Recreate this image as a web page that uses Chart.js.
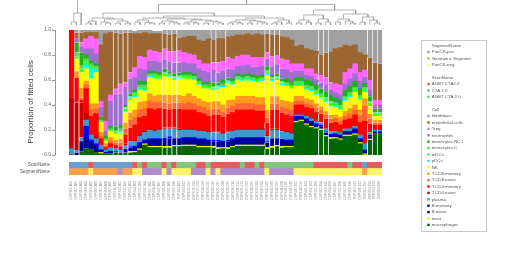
<!DOCTYPE html>
<html>
<head>
<meta charset="utf-8">
<script src="https://cdn.jsdelivr.net/npm/chart.js@4.4.0/dist/chart.umd.min.js"></script>
<style>
  html, body { margin: 0; padding: 0; background: #fff; }
  #wrap { position: relative; width: 512px; height: 271px; }
  #wrap canvas { position: absolute; left: 0; top: 0; }
</style>
</head>
<body>
<div id="wrap">
  <canvas id="dendroChart" width="512" height="271"></canvas>
  <canvas id="cellChart" width="512" height="271"></canvas>
  <canvas id="annoChart" width="512" height="271"></canvas>
</div>
<script>
// sample ids (x tick labels, too small to read in the original)
const sampleIds = [
  'DSP-001-A01','DSP-002-A02','DSP-003-A03','DSP-004-A04','DSP-005-A05','DSP-006-A06','DSP-007-A07','DSP-008-A08',
  'DSP-009-A09','DSP-010-A10','DSP-011-A11','DSP-012-A12','DSP-013-B01','DSP-014-B02','DSP-015-B03','DSP-016-B04',
  'DSP-017-B05','DSP-018-B06','DSP-019-B07','DSP-020-B08','DSP-021-B09','DSP-022-B10','DSP-023-B11','DSP-024-B12',
  'DSP-025-C01','DSP-026-C02','DSP-027-C03','DSP-028-C04','DSP-029-C05','DSP-030-C06','DSP-031-C07','DSP-032-C08',
  'DSP-033-C09','DSP-034-C10','DSP-035-C11','DSP-036-C12','DSP-037-D01','DSP-038-D02','DSP-039-D03','DSP-040-D04',
  'DSP-041-D05','DSP-042-D06','DSP-043-D07','DSP-044-D08','DSP-045-D09','DSP-046-D10','DSP-047-D11','DSP-048-D12',
  'DSP-049-E01','DSP-050-E02','DSP-051-E03','DSP-052-E04','DSP-053-E05','DSP-054-E06','DSP-055-E07','DSP-056-E08',
  'DSP-057-E09','DSP-058-E10','DSP-059-E11','DSP-060-E12','DSP-061-F01','DSP-062-F02','DSP-063-F03','DSP-064-F04'
];

// proportions of fitted cells, in percent, one array per cell type
const fibroblasts = [0,2,2,2,2,2,12,3,2,2,3,2,2,2,3,2,3,2,2,3,4,3,6,6,5,5,8,9,7,8,6,7,5,5,4,4,3,4,3,4,3,4,4,5,6,8,13,12,15,16,17,20,18,17,15,14,12,13,12,18,20,22,26,27];
const endothelial = [0,5,8,5,3,5,45,70,50,45,40,40,32,27,18,20,13,14,15,12,13,14,10,12,14,15,16,18,20,18,20,18,17,18,17,16,17,18,19,18,15,17,16,18,18,19,14,15,16,15,18,16,20,25,28,30,22,18,15,16,12,18,30,29];
const treg = [0,0,3,8,10,12,5,8,5,5,8,3,5,8,10,10,9,8,8,9,8,9,10,8,8,7,7,6,7,6,8,8,9,9,8,9,8,8,8,7,5,8,8,8,8,7,6,6,5,6,5,6,6,6,7,8,9,8,8,7,6,8,4,4];
const neutrophils = [0,3,5,5,10,8,8,4,20,25,25,15,12,10,10,9,8,8,8,7,8,9,8,8,7,8,8,9,8,10,8,7,7,7,6,7,7,6,7,7,6,7,7,8,7,7,5,5,4,4,4,5,5,4,4,4,5,6,6,6,5,5,3,3];
const monocytesNC = [0,8,10,3,2,2,2,2,2,3,3,2,2,2,3,3,2,2,2,3,2,2,2,2,2,2,2,2,2,3,2,3,2,2,2,2,2,2,2,2,3,2,2,2,3,3,3,3,4,4,4,4,5,5,4,4,5,5,5,5,3,4,3,3];
const monocytesC = [0,3,3,2,2,2,1,1,1,1,2,1,1,1,2,2,1,1,1,1,1,1,1,1,1,1,1,1,1,1,1,1,1,1,1,1,1,1,1,1,1,1,1,1,1,1,1,1,1,1,1,1,1,1,1,1,1,1,1,1,1,1,1,1];
const mDCs = [0,2,3,3,2,1,1,1,1,2,1,2,1,2,1,2,1,2,1,1,1,1,1,1,1,1,1,1,1,1,1,1,1,1,1,1,1,1,1,1,2,1,1,1,1,1,2,2,2,2,2,2,2,2,2,2,2,2,2,2,2,2,1,1];
const pDCs = [0,0,0,3,8,2,0,0,0,0,1,1,1,1,1,1,1,1,1,1,1,1,1,1,1,1,1,1,1,1,1,1,1,1,1,1,1,1,1,1,1,1,1,1,1,1,1,1,1,1,1,1,1,1,1,1,1,1,1,1,1,1,1,1];
const nk = [0,10,12,10,20,25,8,2,5,5,4,8,10,10,10,8,13,14,13,15,14,12,13,14,12,13,11,10,11,9,10,14,13,12,13,12,13,12,12,13,28,12,13,12,12,11,8,8,7,7,7,6,7,7,6,6,8,9,10,8,5,6,3,3];
const cd8Memory = [0,5,8,3,5,4,3,2,3,2,3,5,6,6,6,6,6,5,6,6,7,6,6,6,7,6,6,5,6,6,6,6,6,5,6,6,6,6,6,6,6,6,6,5,6,6,4,4,4,4,4,3,3,3,3,3,4,4,4,5,6,4,2,2];
const cd8Naive = [0,0,2,3,5,4,2,1,2,2,3,5,6,6,6,6,6,6,5,5,5,5,5,5,6,5,5,5,5,5,5,4,5,5,5,5,5,5,5,5,4,5,5,5,5,5,3,3,3,3,3,3,3,3,3,3,3,4,4,5,12,4,2,2];
const cd4Memory = [55,20,2,20,15,18,5,2,3,3,3,7,10,12,14,12,16,16,16,15,14,15,16,15,15,15,14,13,12,13,13,12,14,14,15,15,15,15,14,14,10,15,15,14,13,13,8,8,7,8,7,7,8,7,7,6,7,8,9,10,18,7,4,4];
const cd4Naive = [40,38,28,5,0,2,0,0,0,0,0,1,1,1,1,1,1,1,1,1,1,1,1,1,1,1,1,1,1,1,1,1,1,1,1,1,1,1,1,1,1,1,1,1,1,1,0,0,0,0,0,0,0,0,0,0,0,0,0,0,0,0,0,0];
const plasma = [5,2,3,5,4,4,4,2,3,2,2,3,4,4,5,6,7,6,7,7,6,7,6,6,6,6,6,6,6,6,6,6,6,6,6,6,6,6,6,6,4,6,6,6,6,5,1,1,2,2,2,2,2,2,2,2,2,2,2,3,5,2,1,1];
const bMemory = [0,0,0,10,2,2,0,0,0,0,0,1,1,1,1,1,1,1,1,2,2,1,1,1,1,1,1,1,1,1,1,1,1,1,1,1,1,1,1,1,1,1,1,1,1,1,1,1,1,1,1,1,1,1,1,1,1,1,1,1,1,1,0,0];
const bNaive = [0,2,8,8,6,5,2,1,2,1,1,2,3,3,4,2,5,5,5,5,6,5,5,5,5,5,5,5,4,4,5,4,5,5,5,5,5,5,5,5,4,6,5,5,4,4,3,2,3,3,2,2,2,2,2,2,2,2,3,2,2,2,2,2];
const mast = [0,0,0,0,0,0,1,0,0,0,0,0,1,1,1,1,1,1,1,1,1,1,1,1,1,1,1,1,1,1,1,1,1,1,1,1,1,1,1,1,1,1,1,1,1,1,1,1,1,1,1,1,1,1,1,1,1,1,1,1,1,1,0,0];
const macrophages = [0,0,3,5,4,2,1,1,1,2,1,2,2,2,4,8,6,6,6,6,6,7,7,7,7,7,6,6,6,6,5,5,5,6,7,7,7,7,7,7,5,6,7,6,6,6,26,27,24,22,21,20,15,13,13,12,15,15,16,9,0,12,17,17];

// cell types in legend order (top of the stack first)
const cellTypes = ['fibroblasts','endothelial.cells','Treg','neutrophils','monocytes.NC.I','monocytes.C','mDCs','pDCs','NK',
  'T.CD8.memory','T.CD8.naive','T.CD4.memory','T.CD4.naive','plasma','B.memory','B.naive','mast','macrophages'];
const cellValues = [fibroblasts, endothelial, treg, neutrophils, monocytesNC, monocytesC, mDCs, pDCs, nk,
  cd8Memory, cd8Naive, cd4Memory, cd4Naive, plasma, bMemory, bNaive, mast, macrophages];
const cellColors = ['#A0A0A0','#9B6631','#FF66FF','#9E6FD0','#22B022','#66CC66','#33FF33','#00FFFF','#FFFF00',
  '#FF9A1A','#FF6633','#FF0000','#CC0000','#3A9AD0','#0000FF','#000096','#F5F500','#006600'];

// annotation rows
const segmentLevels = ['PanCK-pos', 'Geometric Segment', 'PanCK-neg'];
const segmentColors = ['#B08AC9', '#F9A04C', '#FCF46A'];
const scanLevels = ['AGBT CTA2.0', 'CTA 2.0', 'AGBT CTA 2.0'];
const scanColors = ['#E85A5C', '#6C9DD1', '#80C77C'];
const segmentName = [1,1,1,1,2,1,1,1,1,1,0,1,1,2,2,0,0,0,0,2,0,2,2,2,2,0,0,0,2,0,2,0,0,0,0,0,0,0,0,0,2,0,0,0,0,0,2,2,2,2,2,2,2,2,2,2,2,2,2,2,1,2,2,2];
const scanName = [1,1,1,1,0,1,1,1,1,1,1,1,1,0,2,0,2,2,2,0,2,0,2,2,2,2,0,0,2,0,0,0,0,0,0,2,0,0,2,0,2,2,2,2,2,2,2,2,2,2,0,0,0,0,0,0,0,2,0,0,1,0,0,0];

// bars that carry a thin light separator line on their left edge
const gapBars = [1,2,9,10,11,12,19,20,21,22,29,30,32,40,41,42,43,51,52,53,61,62,63];

// dendrogram: [height, left, right], leaves are bar indices
const dendroTree = [34,
  [12, [3, 0, 1], 2],
  [20.5,
    [12,
      [7, [4, [2, 3, 4], 5], [6, [3, 6, [2, 7, 8]], [4, [2, 9, 10], [2, 11, 12]]]],
      [9,
        [7, [5, [3, 13, 14], [2.5, 15, [2, 16, 17]]],
            [6, [4, [2, 18, 19], [3, 20, [2, 21, 22]]],
                [5, [3, [2, 23, 24], [2, 25, 26]], [4, [2, 27, 28], [3, 29, [2, 30, 31]]]]]],
        [7, [5, [3, [2, 32, 33], [2, 34, 35]], [4, [2, 36, 37], [3, 38, [2, 39, 40]]]],
            [5, [3, [2, 41, 42], 43], [2, 44, 45]]]]],
    [15,
      [10, [5, [2, 46, 47], [3, 48, 49]], [6, [2, 50, 51], [3, 52, 53]]],
      [11, [6, [3, 54, 55], [4, 56, [2, 57, 58]]], [8, [3, 59, 60], [5, 61, [2, 62, 63]]]]]]];

Chart.defaults.font.family = '"Liberation Sans", Arial, sans-serif';

// ---- dendrogram ----
const dendroPoints = [];
function walk(node) {
  if (typeof node === 'number') return { x: node, h: 0 };
  const a = walk(node[1]);
  const b = walk(node[2]);
  dendroPoints.push({ x: a.x, y: a.h }, { x: a.x, y: node[0] }, { x: b.x, y: node[0] }, { x: b.x, y: b.h }, { x: b.x, y: null });
  return { x: (a.x + b.x) / 2, h: node[0] };
}
walk(dendroTree);

new Chart(document.getElementById('dendroChart'), {
  type: 'scatter',
  data: { datasets: [{ data: dendroPoints, showLine: true, spanGaps: false, pointRadius: 0,
    borderColor: '#a0a0a0', borderWidth: 0.8 }] },
  options: {
    responsive: false, animation: false,
    layout: { padding: { left: 69, right: 130, top: 0, bottom: 246 } },
    scales: {
      x: { type: 'linear', min: -0.5, max: sampleIds.length - 0.5, display: false },
      y: { min: 0, max: 25, display: false }
    },
    plugins: { legend: { display: false }, tooltip: { enabled: false } }
  }
});

// ---- main stacked bars ----
const rDecor = {
  id: 'rDecor',
  afterDraw(chart) {
    const ctx = chart.ctx;
    const y = chart.scales.y;
    ctx.save();
    // R style axis, offset from the plot region
    ctx.strokeStyle = '#999';
    ctx.lineWidth = 1;
    ctx.beginPath();
    ctx.moveTo(55.5, y.getPixelForValue(100));
    ctx.lineTo(55.5, y.getPixelForValue(0));
    y.ticks.forEach(t => {
      const py = Math.round(y.getPixelForValue(t.value)) + 0.5;
      ctx.moveTo(52, py);
      ctx.lineTo(55.5, py);
    });
    ctx.stroke();

    // axis title
    ctx.translate(31, 102);
    ctx.rotate(-Math.PI / 2);
    ctx.font = '8px "Liberation Sans", Arial, sans-serif';
    ctx.fillStyle = '#444';
    ctx.textAlign = 'center';
    ctx.textBaseline = 'middle';
    ctx.fillText('Proportion of fitted cells', 0, 0);
    ctx.restore();

    // legend box
    ctx.save();
    ctx.strokeStyle = '#c8c8c8';
    ctx.lineWidth = 1;
    ctx.strokeRect(421.5, 40.5, 65, 191);
    const rows = [{ title: 'SegmentName' }];
    segmentLevels.forEach((n, i) => rows.push({ name: n, color: segmentColors[i] }));
    rows.push(null, { title: 'ScanName' });
    scanLevels.forEach((n, i) => rows.push({ name: n, color: scanColors[i] }));
    rows.push(null, { title: 'Cell' });
    cellTypes.forEach((n, i) => rows.push({ name: n, color: cellColors[i] }));
    ctx.font = '4.4px "Liberation Sans", Arial, sans-serif';
    ctx.textBaseline = 'middle';
    rows.forEach((r, k) => {
      if (!r) return;
      const ly = 45.7 + 6.4 * k;
      if (r.color) {
        ctx.fillStyle = r.color;
        ctx.fillRect(427.3, ly - 1.2, 2.4, 2.4);
      }
      ctx.fillStyle = '#555';
      ctx.fillText(r.title || r.name, 431.7, ly);
    });
    ctx.restore();
  }
};

const cellDatasets = cellTypes.map((name, i) => ({
  label: name,
  data: cellValues[i],
  backgroundColor: cellColors[i],
  borderColor: '#ececec',
  borderSkipped: false,
  borderWidth: c => gapBars.includes(c.dataIndex) ? { left: 1, right: 0, top: 0, bottom: 0 } : 0,
  categoryPercentage: 1,
  barPercentage: 1
})).reverse();

new Chart(document.getElementById('cellChart'), {
  type: 'bar',
  data: { labels: sampleIds, datasets: cellDatasets },
  options: {
    responsive: false, animation: false,
    layout: { padding: { left: 0, right: 130, top: 30, bottom: 116 } },
    scales: {
      x: { stacked: true, display: false },
      y: {
        stacked: true, min: 0, max: 100,
        afterFit: s => { s.width = 69; },
        grid: { display: false, drawTicks: false },
        border: { display: false },
        ticks: { stepSize: 20, padding: 18, color: '#666', font: { size: 5 },
          callback: v => (v / 100).toFixed(1) }
      }
    },
    plugins: { legend: { display: false }, tooltip: { enabled: false } }
  },
  plugins: [rDecor]
});

// ---- annotation rows + sample labels ----
new Chart(document.getElementById('annoChart'), {
  type: 'bar',
  data: {
    labels: sampleIds,
    datasets: [
      { data: segmentName.map(() => 1), backgroundColor: segmentName.map(k => segmentColors[k]),
        categoryPercentage: 1, barPercentage: 1 },
      { data: scanName.map(() => 1), backgroundColor: scanName.map(k => scanColors[k]),
        categoryPercentage: 1, barPercentage: 1 }
    ]
  },
  options: {
    responsive: false, animation: false,
    layout: { padding: { left: 0, right: 130, top: 162, bottom: 0 } },
    scales: {
      x: {
        stacked: true,
        afterFit: s => { s.height = 96; },
        grid: { display: false, drawTicks: false },
        border: { display: false },
        ticks: { autoSkip: false, minRotation: 90, maxRotation: 90, padding: 6, color: '#8a8a8a', font: { size: 3 } }
      },
      y: {
        stacked: true, min: 0, max: 2,
        afterFit: s => { s.width = 69; },
        afterBuildTicks: s => { s.ticks = [{ value: 0.5 }, { value: 1.5 }]; },
        grid: { display: false, drawTicks: false },
        border: { display: false },
        ticks: { padding: 19, color: '#555', font: { size: 4.5 },
          callback: v => v === 1.5 ? 'ScanName' : 'SegmentName' }
      }
    },
    plugins: { legend: { display: false }, tooltip: { enabled: false } }
  }
});
</script>
</body>
</html>
